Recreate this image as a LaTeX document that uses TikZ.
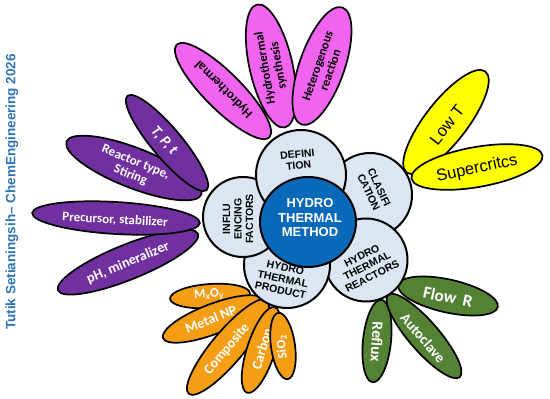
\documentclass[tikz,border=0pt]{standalone}
\usepackage{fontspec}
\setmainfont{Carlito}
\newfontfamily\arialf{Liberation Sans}
\usetikzlibrary{shapes.geometric}
\definecolor{magp}{RGB}{240,100,240}
\definecolor{purp}{RGB}{112,48,160}
\definecolor{yelp}{RGB}{255,255,0}
\definecolor{orap}{RGB}{244,158,22}
\definecolor{grnp}{RGB}{84,130,53}
\definecolor{circ}{RGB}{220,230,242}
\definecolor{bluec}{RGB}{10,105,185}
\definecolor{credit}{RGB}{46,117,182}
\newcommand\myfs[2]{\fontsize{#1pt}{#2pt}\selectfont}
\tikzset{
  petal/.style={ellipse, draw=black, line width=1.7pt, inner sep=0pt},
  ptxt/.style={inner sep=0pt, align=center},
  wtxt/.style={inner sep=0pt, align=center, text=white},
  bub/.style={circle, draw=black, line width=2pt, fill=circ, inner sep=0pt},
  ctxt/.style={inner sep=0pt, align=center, font={\arialf\bfseries\myfs{10.5}{11.5}}},
}
\begin{document}
\begin{tikzpicture}[x=1pt,y=-1pt]
\useasboundingbox (0,0) rectangle (550,399);
\fill[white] (0,0) rectangle (550,399);
% credit
\node[rotate=90, text=credit, inner sep=0pt, font={\arialf\bfseries\myfs{13.5}{13.5}}] (cr) at (12,192) {Tutik Setianingsih– ChemEngineering 2026};
% magenta petals
\node[petal, fill=magp, minimum width=131pt, minimum height=37pt, rotate=-45] (m1) at (223,91) {};
\node[ptxt, rotate=135, font={\bfseries\myfs{13}{14}}] (m1t) at (224,89) {Hydrothermal};
\node[petal, fill=magp, minimum width=126pt, minimum height=43pt, rotate=102.8] (m2) at (271,66) {};
\node[ptxt, rotate=100, font={\bfseries\myfs{12.5}{13.5}}] (m2t) at (272,67) {Hydrothermal\\synthesis};
\node[petal, fill=magp, minimum width=124pt, minimum height=45pt, rotate=70.7] (m3) at (322,66) {};
\node[ptxt, rotate=71, font={\bfseries\myfs{12.5}{13.5}}] (m3t) at (324,68) {Heterogenous\\reaction};
% yellow petals
\node[petal, fill=yelp, minimum width=128pt, minimum height=42pt, rotate=52] (y1) at (446,122) {};
\node[ptxt, rotate=52, font={\arialf\myfs{16.5}{17}}] (y1t) at (447,125) {Low T};
\node[petal, fill=yelp, minimum width=133pt, minimum height=40pt, rotate=10] (y2) at (477,167) {};
\node[ptxt, rotate=12, font={\arialf\myfs{16.5}{17}}] (y2t) at (477,169) {Supercritcs};
% purple petals
\node[petal, fill=purp, minimum width=151pt, minimum height=35pt, rotate=22] (p4) at (128,262) {};
\node[wtxt, rotate=23, font={\bfseries\myfs{14}{15}}] (p4t) at (128,263) {pH, mineralizer};
\node[petal, fill=purp, minimum width=168pt, minimum height=32pt, rotate=-3.4] (p3) at (116,218) {};
\node[wtxt, rotate=-3, font={\bfseries\myfs{13}{14}}] (p3t) at (115,220) {Precursor, stabilizer};
\node[petal, fill=purp, minimum width=145pt, minimum height=40pt, rotate=-21.4] (p2) at (134,168) {};
\node[wtxt, rotate=-22, font={\bfseries\myfs{13}{14}}] (p2t) at (133,169) {Reactor type,\\Stiring};
\node[petal, fill=purp, minimum width=123pt, minimum height=30pt, rotate=-50] (p1) at (167,143) {};
\node[wtxt, rotate=-48, font={\bfseries\itshape\myfs{15}{16}}] (p1t) at (164,141) {T, P, t};
% orange petals
\node[petal, fill=orap, minimum width=80pt, minimum height=24pt, rotate=4] (o1) at (210,296) {};
\node[wtxt, rotate=4, font={\bfseries\myfs{13}{14}}] (o1t) at (209,295) {M\textsubscript{x}O\textsubscript{y}};
\node[petal, fill=orap, minimum width=107pt, minimum height=30pt, rotate=21] (o2) at (213,319) {};
\node[wtxt, rotate=22, font={\bfseries\myfs{14}{15}}] (o2t) at (211,319) {Metal NP};
\node[petal, fill=orap, minimum width=122pt, minimum height=32pt, rotate=50] (o3) at (228,347) {};
\node[wtxt, rotate=50, font={\bfseries\myfs{14}{15}}] (o3t) at (227,349) {Composite};
\node[petal, fill=orap, minimum width=90pt, minimum height=28pt, rotate=72] (o4) at (261,350) {};
\node[wtxt, rotate=73, font={\bfseries\myfs{14}{15}}] (o4t) at (262,349) {Carbon};
\node[petal, fill=orap, minimum width=67pt, minimum height=24pt, rotate=98] (o5) at (283,346) {};
\node[wtxt, rotate=96, font={\bfseries\myfs{13}{14}}] (o5t) at (282,347) {SiO\textsubscript{2}};
% green petals
\node[petal, fill=grnp, minimum width=83pt, minimum height=28pt, rotate=-96] (g3) at (377,341) {};
\node[wtxt, rotate=-93, font={\bfseries\myfs{15.5}{16}}] (g3t) at (377,342) {Reflux};
\node[petal, fill=grnp, minimum width=109pt, minimum height=30pt, rotate=-49] (g2) at (424,336) {};
\node[wtxt, rotate=-49, font={\bfseries\myfs{14.5}{15}}] (g2t) at (423,338) {Autoclave};
\node[petal, fill=grnp, minimum width=102pt, minimum height=33pt, rotate=-12.5] (g1) at (448,296) {};
\node[wtxt, rotate=-12, font={\bfseries\myfs{17}{18}}] (g1t) at (448,297) {Flow\hspace{0.4em}R};
% centre circles
\node[bub, minimum size=84pt] (cla) at (370,195) {};
\node[ctxt, rotate=-65] (clat) at (374,190) {CLASIFI\\CATION};
\node[bub, minimum size=83pt] (rea) at (366,260) {};
\node[ctxt, rotate=27] (reat) at (367,266) {HYDRO\\THERMAL\\REACTORS};
\node[bub, minimum size=86pt] (pro) at (287,265) {};
\node[ctxt, rotate=-12] (prot) at (283,279) {HYDRO\\THERMAL\\PRODUCT};
\node[bub, minimum size=80pt] (inf) at (243,217) {};
\node[ctxt, rotate=90] (inft) at (238,219) {INFLU\\ENCING\\FACTORS};
\node[bub, minimum size=90pt] (def) at (301,175) {};
\node[ctxt, rotate=6] (deft) at (298,160) {DEFINI\\TION};
\node[ellipse, draw=black, line width=2pt, fill=bluec, minimum width=96pt, minimum height=90pt, inner sep=0pt] (core) at (308,222) {};
\node[inner sep=0pt, align=center, text=white, font={\arialf\bfseries\myfs{13}{14.5}}] (coret) at (310,218) {HYDRO\\THERMAL\\METHOD};
\end{tikzpicture}
\end{document}
